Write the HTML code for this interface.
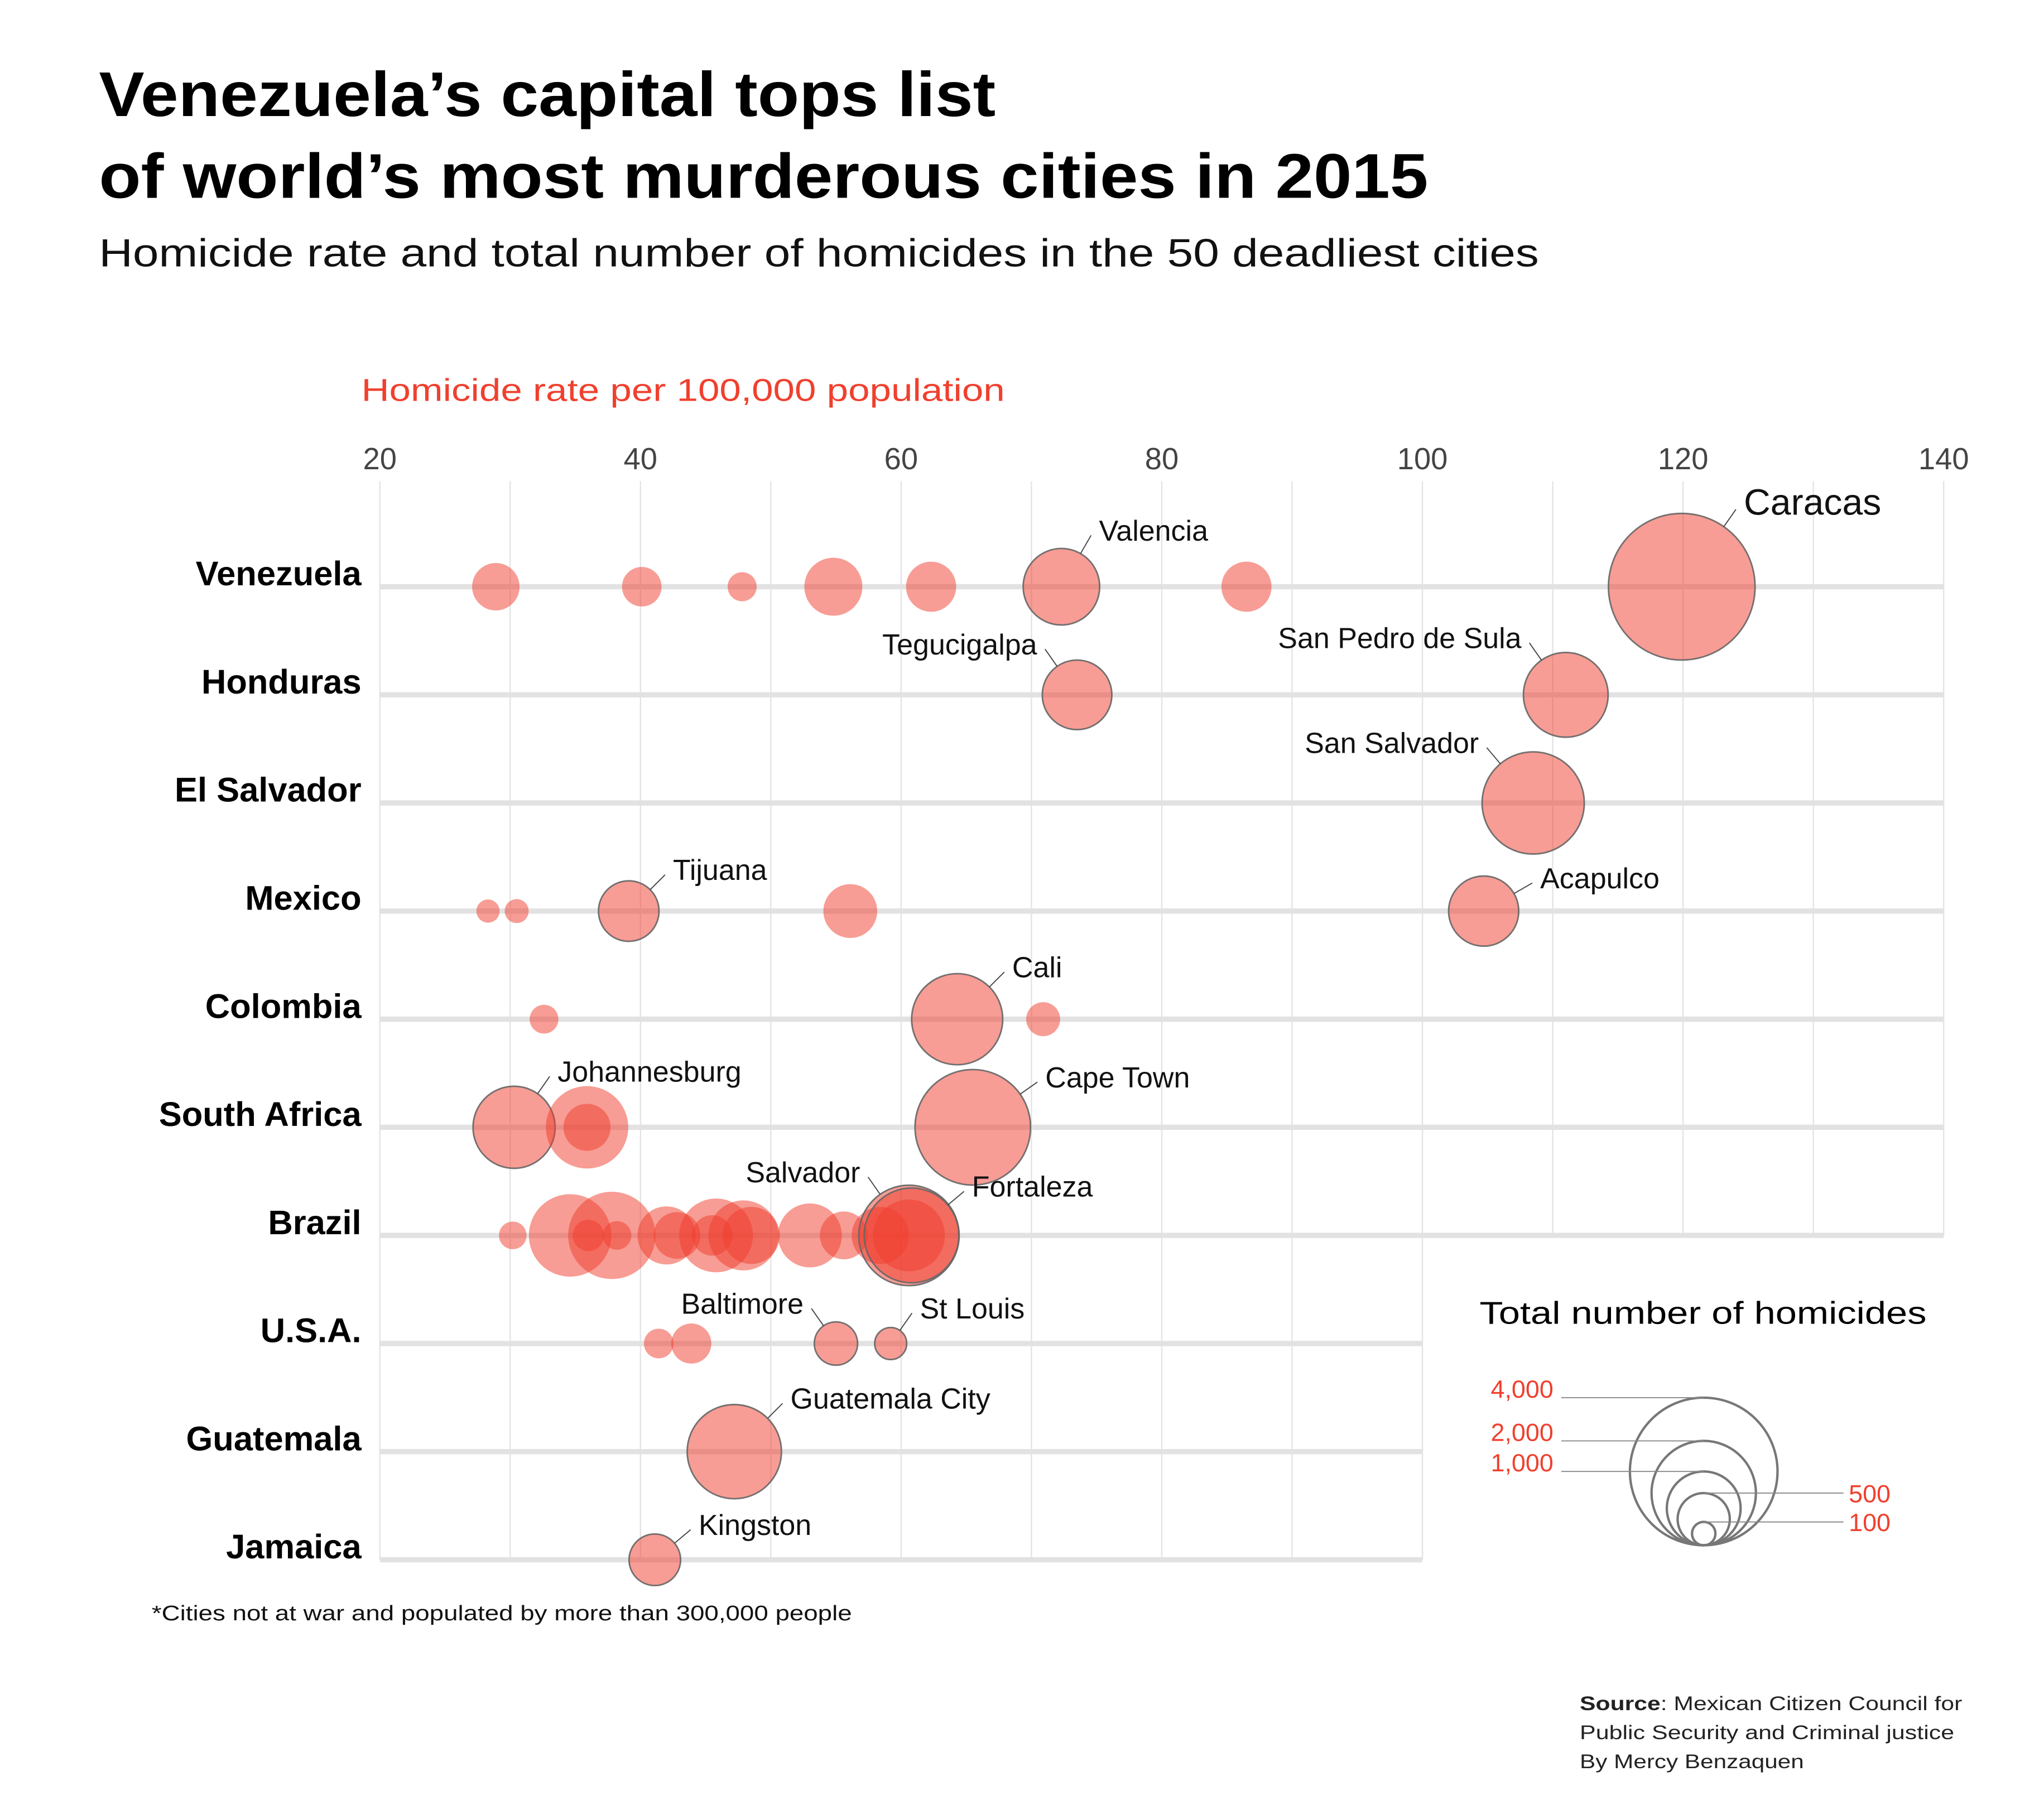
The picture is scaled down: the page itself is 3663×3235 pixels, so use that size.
<!DOCTYPE html>
<html><head><meta charset="utf-8"><style>
html,body{margin:0;padding:0;background:#fff;}
svg{display:block;font-family:"Liberation Sans",sans-serif;}
</style></head><body>
<svg id="chart" width="3663" height="3235" viewBox="0 0 1550 1369" xmlns="http://www.w3.org/2000/svg">
<rect width="1550" height="1369" fill="#fff"/>
<text x="75" y="88" font-size="48" font-weight="bold" fill="#000" textLength="680" lengthAdjust="spacingAndGlyphs">Venezuela’s capital tops list</text>
<text x="75" y="150" font-size="48" font-weight="bold" fill="#000" textLength="1008" lengthAdjust="spacingAndGlyphs">of world’s most murderous cities in 2015</text>
<text x="75" y="202" font-size="30" fill="#111" textLength="1092" lengthAdjust="spacingAndGlyphs">Homicide rate and total number of homicides in the 50 deadliest cities</text>
<text x="274" y="304" font-size="24" fill="#f0402e" textLength="488" lengthAdjust="spacingAndGlyphs">Homicide rate per 100,000 population</text>
<g id="grid"></g><g id="rows"></g><g id="bubbles"></g><g id="labels"></g>
<text x="115" y="1229" font-size="16" fill="#111" textLength="531" lengthAdjust="spacingAndGlyphs">*Cities not at war and populated by more than 300,000 people</text>
<text x="1198" y="1297" font-size="15" fill="#222" textLength="290" lengthAdjust="spacingAndGlyphs"><tspan font-weight="bold">Source</tspan>: Mexican Citizen Council for</text>
<text x="1198" y="1319" font-size="15" fill="#222" textLength="284" lengthAdjust="spacingAndGlyphs">Public Security and Criminal justice</text>
<text x="1198" y="1341" font-size="15" fill="#222" textLength="170" lengthAdjust="spacingAndGlyphs">By Mercy Benzaquen</text>
<text x="1122" y="1004" font-size="24" fill="#000" textLength="339" lengthAdjust="spacingAndGlyphs">Total number of homicides</text>
<g id="legend"></g>
</svg>
<script>
const NS="http://www.w3.org/2000/svg";
const countries=["Venezuela","Honduras","El Salvador","Mexico","Colombia","South Africa","Brazil","U.S.A.","Guatemala","Jamaica"];
const xTicks=[20,40,60,80,100,120,140];
const legendValues=[4000,2000,1000,500,100];
const legendLabels=["4,000","2,000","1,000","500","100"];
// city rows: [countryIndex, rate, homicides, label]
const cityCountry=[0,0,0,0,0,0,0,0, 1,1, 2, 3,3,3,3,3, 4,4,4, 5,5,5,5, 6,6,6,6,6,6,6,6,6,6,6,6,6,6,6,6,6, 7,7,7,7, 8, 9];
const cityRate=[28.9,40.1,47.8,54.8,62.3,72.3,86.5,119.9, 73.5,111.0, 108.5, 28.3,30.5,39.1,56.1,104.7, 32.6,64.3,70.9, 30.3,35.9,35.9,65.5,
 30.2,34.6,36.0,37.8,38.2,42.0,42.8,45.5,45.8,47.9,48.5,53.0,55.6,58.4,60.6,60.6,60.8,
 41.4,43.9,55.0,59.2, 47.2, 41.1];
const cityCount=[413,287,155,618,461,1074,461,3946, 888,1317, 1918, 99,106,672,532,902, 152,1523,212, 1237,1248,406,2451,
 140,1250,180,1400,150,620,400,300,1000,900,600,750,420,600,950,1850,1650,
 161,295,344,188, 1630, 487];
const cityLabel=["","","","","","Valencia","","Caracas", "Tegucigalpa","San Pedro de Sula", "San Salvador", "","","Tijuana","","Acapulco", "","Cali","", "Johannesburg","","","Cape Town",
 "","","","","","","","","","","","","","","","Salvador","Fortaleza",
 "","","Baltimore","St Louis", "Guatemala City", "Kingston"];
// annotation styling (angle of leader line, anchor)
const labelStyle={"Caracas":[-55,"start",28],"Valencia":[-60,"start",22],"Tegucigalpa":[-125,"end",22],"San Pedro de Sula":[-125,"end",22],
 "San Salvador":[-130,"end",22],"Tijuana":[-45,"start",22],"Acapulco":[-30,"start",22],"Cali":[-45,"start",22],"Johannesburg":[-55,"start",22],
 "Cape Town":[-35,"start",22],"Salvador":[-125,"end",22],"Fortaleza":[-40,"start",22],"Baltimore":[-125,"end",22],"St Louis":[-55,"start",22],
 "Guatemala City":[-45,"start",22],"Kingston":[-40,"start",22]};

const x=v=>288+(v-20)*(1474-288)/120;
const y=i=>445+i*82;
const r=v=>0.885*Math.sqrt(v);
function mk(tag,attrs,parent){const e=document.createElementNS(NS,tag);for(const k in attrs)e.setAttribute(k,attrs[k]);parent.appendChild(e);return e;}
const grid=document.getElementById('grid'),rows=document.getElementById('rows'),bub=document.getElementById('bubbles'),lab=document.getElementById('labels'),leg=document.getElementById('legend');
for(let v=20;v<=140;v+=10){
  const l=mk('line',{x1:x(v),x2:x(v),y1:365,y2:v>100?y(6):y(9),stroke:'#e3e3e3','stroke-width':1},grid);
  
  
}
xTicks.forEach(v=>{
  const t=mk('text',{x:x(v),y:356,'font-size':23,fill:'#444','text-anchor':'middle'},grid);
  t.textContent=v;
  
  
});
countries.forEach((c,i)=>{
  const l=mk('line',{x1:288,x2:i>=7?x(100):x(140),y1:y(i),y2:y(i),stroke:'#e2e2e2','stroke-width':4},rows);
  
  
  const t=mk('text',{x:274,y:y(i)-1,'font-size':26,'font-weight':'bold',fill:'#000','text-anchor':'end'},rows);
  t.textContent=c;
  
  
});
cityRate.forEach((rate,k)=>{
  const cx=x(rate),cy=y(cityCountry[k]),rr=r(cityCount[k]),name=cityLabel[k];
  const c=mk('circle',{cx:cx,cy:cy,r:rr,fill:'#ef3b2c','fill-opacity':0.5},bub);
  if(name){c.setAttribute('stroke','#666');c.setAttribute('stroke-width',1.2);c.setAttribute('stroke-opacity',0.9);}
  
  
  if(name){
    const s=labelStyle[name],a=s[0]*Math.PI/180,ca=Math.cos(a),sa=Math.sin(a);
    const ex=cx+rr*ca,ey=cy+rr*sa,lx=ex+16*ca,ly=ey+16*sa;
    const ln=mk('line',{x1:ex,y1:ey,x2:lx,y2:ly,stroke:'#444','stroke-width':0.8},lab);
    
    
    const t=mk('text',{x:lx+(s[1]==='start'?6:-6),y:ly+4,'font-size':s[2],fill:'#111','text-anchor':s[1]},lab);
    t.textContent=name;
    
    
  }
});
// legend
const lcx=1292,lb=1172;
legendValues.forEach((v,i)=>{
  const rr=r(v);
  const c=mk('circle',{cx:lcx,cy:lb-rr,r:rr,fill:'none',stroke:'#777','stroke-width':1.8},leg);
  
  
  const top=lb-2*rr,left=i<3;
  const ln=mk('line',{x1:left?1184:lcx,x2:left?lcx:1398,y1:top,y2:top,stroke:'#888','stroke-width':0.8},leg);
  
  
  const t=mk('text',{x:left?1178:1402,y:top-(left?0:-7),'font-size':19,fill:'#f0402e','text-anchor':left?'end':'start'},leg);
  t.textContent=legendLabels[i];
  
  
});
</script>
</body></html>
